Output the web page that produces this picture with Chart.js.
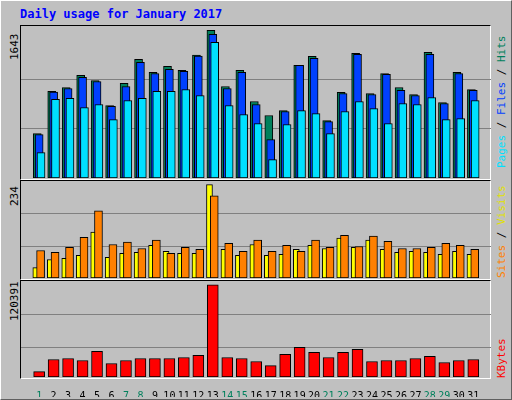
<!DOCTYPE html>
<html>
<head>
<meta charset="utf-8">
<script src="https://cdn.jsdelivr.net/npm/chart.js@4/dist/chart.umd.min.js"></script>
<style>
body { margin:0; background:#c0c0c0; }
#page { position:relative; width:510px; height:398px; border-left:1px solid #fff; border-top:1px solid #fff; border-right:1px solid #606060; border-bottom:1px solid #606060; background:#c0c0c0; font-family:"DejaVu Sans Mono", monospace; overflow:hidden; }
.frame { position:absolute; left:19px; width:471px; border-top:1px solid #000; border-left:1px solid #000; border-right:1px solid #fff; border-bottom:1px solid #fff; box-sizing:border-box; }
canvas { position:absolute; left:20px; }
.rot { position:absolute; transform-origin:0 0; transform:rotate(-90deg); white-space:nowrap; font-size:11px; }
</style>
</head>
<body>
<div id="page">
  <div style="position:absolute;left:19px;top:6px;color:#0000ff;font-weight:bold;font-size:12px;">Daily usage for January 2017</div>
  <div class="frame" style="top:24px;height:155px;"></div>
  <div class="frame" style="top:179px;height:100px;"></div>
  <div class="frame" style="top:279px;height:99px;"></div>
  <canvas id="c1" width="470" height="152" style="top:25px"></canvas>
  <canvas id="c2" width="470" height="97" style="top:180px"></canvas>
  <canvas id="c3" width="470" height="116" style="top:280px"></canvas>
  <div class="rot" style="left:7px;top:59px;">1643</div>
  <div class="rot" style="left:7px;top:205px;">234</div>
  <div class="rot" style="left:7px;top:320px;">120391</div>
  <div class="rot" style="left:494px;top:167px;"><span style="color:#00e0ff">Pages</span> / <span style="color:#0040ff">Files</span> / <span style="color:#00805c">Hits</span></div>
  <div class="rot" style="left:494px;top:277px;"><span style="color:#ff8000">Sites</span> / <span style="color:#e0e000">Visits</span></div>
  <div class="rot" style="left:494px;top:377px;"><span style="color:#ff0000">KBytes</span></div>
</div>
<script>
const days = [1,2,3,4,5,6,7,8,9,10,11,12,13,14,15,16,17,18,19,20,21,22,23,24,25,26,27,28,29,30,31];
const weekends = [1,7,8,14,15,21,22,28,29];
const hits = [494,963,1007,1141,1085,807,1052,1320,1175,1242,1197,1368,1643,1018,1197,851,695,750,1253,1353,639,952,1387,940,1163,1007,929,1398,840,1175,985];
const files = [483,955,996,1119,1074,796,1018,1286,1163,1208,1186,1357,1598,996,1175,818,427,740,1253,1331,628,940,1375,929,1152,974,918,1375,829,1163,974];
const pages = [283,874,885,784,818,650,862,885,963,963,985,918,1509,807,706,606,204,595,750,717,494,740,851,773,606,829,818,896,650,662,862];
const visits = [26,46,49,57,115,52,62,64,82,67,62,62,234,72,57,84,57,59,72,82,74,100,77,95,72,64,67,64,59,67,59];
const sites = [69,64,77,102,168,84,90,74,95,62,77,72,206,87,67,95,67,82,67,95,77,107,79,105,92,74,74,77,87,82,72];
const kbytes = [7030,22850,24170,21530,33390,17580,21530,24170,24170,24170,25480,28120,120391,25480,24170,20210,14940,29440,38670,32080,25480,32080,36030,20210,21530,21530,24170,26800,18890,21530,22850];

function pts(arr, shift) {
  return arr.map((v, i) => ({ x: days[i] + shift, y: v }));
}
function bar(label, arr, shift, color, width) {
  return { label: label, data: pts(arr, shift), backgroundColor: color, borderColor: '#000', borderWidth: 1, borderSkipped: false, barThickness: width, grouped: false };
}
function makeChart(id, datasets, yMax, grid, showX) {
  return new Chart(document.getElementById(id), {
    type: 'bar',
    data: { datasets: datasets },
    options: {
      responsive: false, animation: false, devicePixelRatio: 1,
      layout: { padding: 0 },
      plugins: { legend: { display: false }, tooltip: { enabled: false } },
      scales: {
        x: {
          type: 'linear', min: 0.27, max: 31.7, display: showX,
          grid: { display: false }, border: { display: false },
          afterFit: s => { s.height = showX ? 20 : 0; },
          ticks: {
            stepSize: 1, includeBounds: false, autoSkip: false, maxRotation: 0, padding: 5,
            font: { family: 'DejaVu Sans Mono', size: 10 },
            color: c => weekends.includes(c.tick.value) ? '#00805c' : '#000'
          }
        },
        y: {
          min: 0, max: yMax, display: true,
          afterFit: s => { s.width = 0; },
          afterBuildTicks: s => { s.ticks = grid.map(v => ({ value: v })); },
          ticks: { display: false },
          grid: { color: '#808080', lineWidth: 1, drawTicks: false },
          border: { display: false }
        }
      }
    }
  });
}

makeChart('c1', [
  bar('Pages', pages, 0.13, '#00e0ff', 8),
  bar('Files', files, 0, '#0040ff', 8),
  bar('Hits', hits, -0.13, '#00805c', 8)
], 1691, [550, 1100], false);

makeChart('c2', [
  bar('Sites', sites, 0.1, '#ff8000', 8),
  bar('Visits', visits, -0.23, '#ffff00', 6)
], 243, [78, 161], false);

makeChart('c3', [
  bar('KBytes', kbytes, 0, '#ff0000', 11)
], 125225, [38670, 82170], true);
</script>
</body>
</html>
